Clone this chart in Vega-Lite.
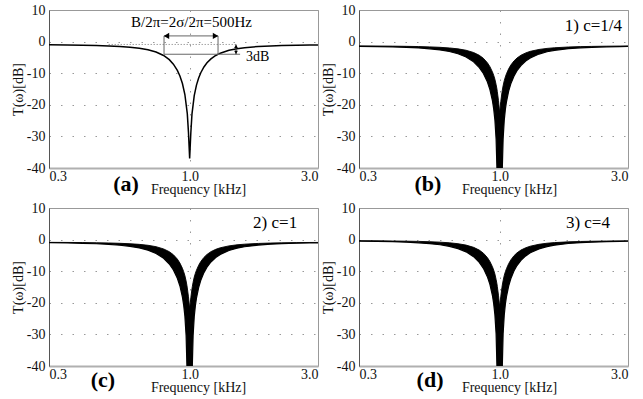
{
"$schema": "https://vega.github.io/schema/vega-lite/v6.json",
"background": "white",
"padding": {"left": 10, "top": 2, "right": 10, "bottom": 0},
"config": {
  "font": "Liberation Serif",
  "view": {"stroke": "#999", "strokeWidth": 1},
  "axis": {"labelFont": "Liberation Serif", "labelFontSize": 14, "labelColor": "#111", "titleFont": "Liberation Serif", "titleFontSize": 14, "titleFontWeight": "normal", "titleColor": "#111", "ticks": false, "gridColor": "#999", "gridDash": [1.5, 10], "gridWidth": 1, "labelOverlap": false},
  "text": {"font": "Liberation Serif", "color": "black"}
},
"datasets": {
  "a": [{"f":0.3,"T":-1.02},{"f":0.35,"T":-1.07},{"f":0.4,"T":-1.14},{"f":0.45,"T":-1.23},{"f":0.5,"T":-1.36},{"f":0.55,"T":-1.53},{"f":0.6,"T":-1.76},{"f":0.65,"T":-2.1},{"f":0.7,"T":-2.58},{"f":0.75,"T":-3.29},{"f":0.8,"T":-4.39},{"f":0.84,"T":-5.72},{"f":0.87,"T":-7.13},{"f":0.9,"T":-9.1},{"f":0.92,"T":-10.89},{"f":0.94,"T":-13.28},{"f":0.96,"T":-16.75},{"f":0.98,"T":-22.78},{"f":0.99,"T":-28.82},{"f":1.0,"T":-37},{"f":1.01,"T":-28.91},{"f":1.02,"T":-22.95},{"f":1.04,"T":-17.09},{"f":1.06,"T":-13.78},{"f":1.08,"T":-11.52},{"f":1.1,"T":-9.85},{"f":1.13,"T":-8.03},{"f":1.16,"T":-6.72},{"f":1.2,"T":-5.46},{"f":1.25,"T":-4.39},{"f":1.3,"T":-3.66},{"f":1.4,"T":-2.75},{"f":1.5,"T":-2.24},{"f":1.6,"T":-1.92},{"f":1.8,"T":-1.55},{"f":2.0,"T":-1.36},{"f":2.2,"T":-1.24},{"f":2.5,"T":-1.14},{"f":2.8,"T":-1.08},{"f":3.0,"T":-1.05}],
  "b": [{"f":0.3,"U":-1.37,"L":-1.48},{"f":0.35,"U":-1.4,"L":-1.56},{"f":0.4,"U":-1.44,"L":-1.67},{"f":0.45,"U":-1.5,"L":-1.82},{"f":0.5,"U":-1.57,"L":-2.01},{"f":0.55,"U":-1.67,"L":-2.28},{"f":0.6,"U":-1.81,"L":-2.63},{"f":0.65,"U":-2.01,"L":-3.14},{"f":0.7,"U":-2.3,"L":-3.85},{"f":0.75,"U":-2.74,"L":-4.88},{"f":0.8,"U":-3.45,"L":-6.41},{"f":0.84,"U":-4.33,"L":-8.21},{"f":0.87,"U":-5.29,"L":-10.1},{"f":0.9,"U":-6.67,"L":-12.73},{"f":0.92,"U":-7.93,"L":-15.18},{"f":0.94,"U":-9.59,"L":-18.7},{"f":0.95,"U":-10.64,"L":-21.21},{"f":0.96,"U":-11.89,"L":-24.75},{"f":0.97,"U":-13.6,"L":-30.8},{"f":0.977,"U":-15.0,"L":-40},{"f":0.98,"U":-15.8,"L":-40},{"f":0.99,"U":-18.6,"L":-40},{"f":1.0,"U":-22.5,"L":-40},{"f":1.01,"U":-18.9,"L":-40},{"f":1.02,"U":-16.1,"L":-40},{"f":1.023,"U":-15.4,"L":-40},{"f":1.03,"U":-14.0,"L":-30.89},{"f":1.04,"U":-12.37,"L":-24.92},{"f":1.05,"U":-11.18,"L":-21.47},{"f":1.06,"U":-10.19,"L":-19.04},{"f":1.08,"U":-8.62,"L":-15.69},{"f":1.1,"U":-7.44,"L":-13.38},{"f":1.13,"U":-6.13,"L":-10.95},{"f":1.16,"U":-5.2,"L":-9.22},{"f":1.2,"U":-4.31,"L":-7.58},{"f":1.25,"U":-3.58,"L":-6.16},{"f":1.3,"U":-3.08,"L":-5.18},{"f":1.4,"U":-2.49,"L":-3.94},{"f":1.5,"U":-2.15,"L":-3.21},{"f":1.6,"U":-1.95,"L":-2.76},{"f":1.8,"U":-1.71,"L":-2.24},{"f":2.0,"U":-1.59,"L":-1.96},{"f":2.2,"U":-1.52,"L":-1.8},{"f":2.5,"U":-1.45,"L":-1.65},{"f":2.8,"U":-1.41,"L":-1.56},{"f":3.0,"U":-1.4,"L":-1.52}],
  "c": [{"f":0.3,"U":-0.87,"L":-0.98},{"f":0.35,"U":-0.9,"L":-1.06},{"f":0.4,"U":-0.94,"L":-1.17},{"f":0.45,"U":-1.0,"L":-1.32},{"f":0.5,"U":-1.07,"L":-1.51},{"f":0.55,"U":-1.17,"L":-1.78},{"f":0.6,"U":-1.31,"L":-2.13},{"f":0.65,"U":-1.51,"L":-2.64},{"f":0.7,"U":-1.8,"L":-3.35},{"f":0.75,"U":-2.24,"L":-4.38},{"f":0.8,"U":-2.95,"L":-5.91},{"f":0.84,"U":-3.83,"L":-7.71},{"f":0.87,"U":-4.79,"L":-9.6},{"f":0.9,"U":-6.17,"L":-12.23},{"f":0.92,"U":-7.43,"L":-14.68},{"f":0.94,"U":-9.09,"L":-18.2},{"f":0.95,"U":-10.14,"L":-20.71},{"f":0.96,"U":-11.39,"L":-24.25},{"f":0.97,"U":-13.1,"L":-30.3},{"f":0.977,"U":-14.5,"L":-40},{"f":0.98,"U":-15.3,"L":-40},{"f":0.99,"U":-18.1,"L":-40},{"f":1.0,"U":-21.8,"L":-40},{"f":1.01,"U":-18.4,"L":-40},{"f":1.02,"U":-15.6,"L":-40},{"f":1.023,"U":-14.9,"L":-40},{"f":1.03,"U":-13.5,"L":-30.39},{"f":1.04,"U":-11.87,"L":-24.42},{"f":1.05,"U":-10.68,"L":-20.97},{"f":1.06,"U":-9.69,"L":-18.54},{"f":1.08,"U":-8.12,"L":-15.19},{"f":1.1,"U":-6.94,"L":-12.88},{"f":1.13,"U":-5.63,"L":-10.45},{"f":1.16,"U":-4.7,"L":-8.72},{"f":1.2,"U":-3.81,"L":-7.08},{"f":1.25,"U":-3.08,"L":-5.66},{"f":1.3,"U":-2.58,"L":-4.68},{"f":1.4,"U":-1.99,"L":-3.44},{"f":1.5,"U":-1.65,"L":-2.71},{"f":1.6,"U":-1.45,"L":-2.26},{"f":1.8,"U":-1.21,"L":-1.74},{"f":2.0,"U":-1.09,"L":-1.46},{"f":2.2,"U":-1.02,"L":-1.3},{"f":2.5,"U":-0.95,"L":-1.15},{"f":2.8,"U":-0.91,"L":-1.06},{"f":3.0,"U":-0.9,"L":-1.02}],
  "d": [{"f":0.3,"U":-0.37,"L":-0.48},{"f":0.35,"U":-0.4,"L":-0.56},{"f":0.4,"U":-0.44,"L":-0.67},{"f":0.45,"U":-0.5,"L":-0.82},{"f":0.5,"U":-0.57,"L":-1.01},{"f":0.55,"U":-0.67,"L":-1.28},{"f":0.6,"U":-0.81,"L":-1.63},{"f":0.65,"U":-1.01,"L":-2.14},{"f":0.7,"U":-1.3,"L":-2.85},{"f":0.75,"U":-1.74,"L":-3.88},{"f":0.8,"U":-2.45,"L":-5.41},{"f":0.84,"U":-3.33,"L":-7.21},{"f":0.87,"U":-4.29,"L":-9.1},{"f":0.9,"U":-5.67,"L":-11.73},{"f":0.92,"U":-6.93,"L":-14.18},{"f":0.94,"U":-8.59,"L":-17.7},{"f":0.95,"U":-9.64,"L":-20.21},{"f":0.96,"U":-10.89,"L":-23.75},{"f":0.97,"U":-12.6,"L":-29.8},{"f":0.977,"U":-14.0,"L":-40},{"f":0.98,"U":-14.8,"L":-40},{"f":0.99,"U":-17.6,"L":-40},{"f":1.0,"U":-21.2,"L":-40},{"f":1.01,"U":-17.9,"L":-40},{"f":1.02,"U":-15.1,"L":-40},{"f":1.023,"U":-14.4,"L":-40},{"f":1.03,"U":-13.0,"L":-29.89},{"f":1.04,"U":-11.37,"L":-23.92},{"f":1.05,"U":-10.18,"L":-20.47},{"f":1.06,"U":-9.19,"L":-18.04},{"f":1.08,"U":-7.62,"L":-14.69},{"f":1.1,"U":-6.44,"L":-12.38},{"f":1.13,"U":-5.13,"L":-9.95},{"f":1.16,"U":-4.2,"L":-8.22},{"f":1.2,"U":-3.31,"L":-6.58},{"f":1.25,"U":-2.58,"L":-5.16},{"f":1.3,"U":-2.08,"L":-4.18},{"f":1.4,"U":-1.49,"L":-2.94},{"f":1.5,"U":-1.15,"L":-2.21},{"f":1.6,"U":-0.95,"L":-1.76},{"f":1.8,"U":-0.71,"L":-1.24},{"f":2.0,"U":-0.59,"L":-0.96},{"f":2.2,"U":-0.52,"L":-0.8},{"f":2.5,"U":-0.45,"L":-0.65},{"f":2.8,"U":-0.41,"L":-0.56},{"f":3.0,"U":-0.4,"L":-0.52}]
},
"vconcat": [
 {"hconcat": [
  {"width": 269, "height": 158,
   "layer": [
    {"data": {"name": "a"}, "mark": {"type": "line", "color": "black", "strokeWidth": 1.5, "clip": true},
     "encoding": {
      "x": {"field": "f", "type": "quantitative", "scale": {"type": "log", "domain": [0.3, 3], "nice": false}, "axis": {"values": [0.3, 1, 3], "labelExpr": "format(datum.value, '.1f')", "labelFont": "Liberation Serif", "titleFont": "Liberation Serif", "title": "Frequency [kHz]", "titleX": 149, "titleY": 25, "titleAlign": "center", "titleBaseline": "alphabetic", "labelFlush": true, "labelPadding": 1, "labelOverlap": false, "domainColor": "#b0b0b0", "domainWidth": 2}},
      "y": {"field": "T", "type": "quantitative", "scale": {"domain": [-40, 10], "nice": false}, "axis": {"values": [10, 0, -10, -20, -30, -40], "tickCount": 6, "labelOverlap": false, "labelBound": false, "labelExpr": "'' + datum.value", "labelFont": "Liberation Serif", "titleFont": "Liberation Serif", "title": "T(ω)[dB]", "titlePadding": 1, "labelPadding": 4, "domainColor": "#555"}}
     }},
    {"data": {"values": [{}]}, "mark": {"type": "rule", "color": "#777", "strokeDash": [1, 2]}, "encoding": {"x": {"datum": 0.5, "type": "quantitative"}, "x2": {"datum": 1.5}, "y": {"datum": -0.9, "type": "quantitative"}}},
    {"data": {"values": [{}]}, "mark": {"type": "rule", "color": "#666"}, "encoding": {"x": {"datum": 0.803, "type": "quantitative"}, "y": {"datum": 1.8, "type": "quantitative"}, "y2": {"datum": -4}}},
    {"data": {"values": [{}]}, "mark": {"type": "rule", "color": "#666"}, "encoding": {"x": {"datum": 1.275, "type": "quantitative"}, "y": {"datum": 1.8, "type": "quantitative"}, "y2": {"datum": -4}}},
    {"data": {"values": [{}]}, "mark": {"type": "rule", "color": "#666"}, "encoding": {"x": {"datum": 0.803, "type": "quantitative"}, "x2": {"datum": 1.54}, "y": {"datum": -4, "type": "quantitative"}}},
    {"data": {"values": [{}]}, "mark": {"type": "rule", "color": "#666"}, "encoding": {"x": {"datum": 0.803, "type": "quantitative"}, "x2": {"datum": 1.275}, "y": {"datum": 1.8, "type": "quantitative"}}},
    {"data": {"values": [{}]}, "mark": {"type": "point", "shape": "triangle-left", "filled": true, "size": 40, "color": "black", "opacity": 1}, "encoding": {"x": {"datum": 0.82, "type": "quantitative"}, "y": {"datum": 1.8, "type": "quantitative"}}},
    {"data": {"values": [{}]}, "mark": {"type": "point", "shape": "triangle-right", "filled": true, "size": 40, "color": "black", "opacity": 1}, "encoding": {"x": {"datum": 1.248, "type": "quantitative"}, "y": {"datum": 1.8, "type": "quantitative"}}},
    {"data": {"values": [{}]}, "mark": {"type": "rule", "color": "#333"}, "encoding": {"x": {"datum": 1.487, "type": "quantitative"}, "y": {"datum": -0.9, "type": "quantitative"}, "y2": {"datum": -4}}},
    {"data": {"values": [{}]}, "mark": {"type": "point", "shape": "triangle-up", "filled": true, "size": 14, "color": "black", "opacity": 1}, "encoding": {"x": {"datum": 1.487, "type": "quantitative"}, "y": {"datum": -1.5, "type": "quantitative"}}},
    {"data": {"values": [{}]}, "mark": {"type": "point", "shape": "triangle-down", "filled": true, "size": 14, "color": "black", "opacity": 1}, "encoding": {"x": {"datum": 1.487, "type": "quantitative"}, "y": {"datum": -3.4, "type": "quantitative"}}},
    {"data": {"values": [{}]}, "mark": {"type": "text", "fontSize": 15, "align": "center", "baseline": "alphabetic"}, "encoding": {"x": {"datum": 1.016, "type": "quantitative"}, "y": {"datum": 4.6, "type": "quantitative"}, "text": {"value": "B/2π=2σ/2π=500Hz"}}},
    {"data": {"values": [{}]}, "mark": {"type": "text", "fontSize": 14, "align": "left", "baseline": "alphabetic"}, "encoding": {"x": {"datum": 1.62, "type": "quantitative"}, "y": {"datum": -6.1, "type": "quantitative"}, "text": {"value": "3dB"}}},
    {"data": {"values": [{}]}, "mark": {"type": "text", "fontSize": 22, "fontWeight": "bold", "align": "center", "baseline": "alphabetic"}, "encoding": {"x": {"datum": 0.58, "type": "quantitative"}, "y": {"datum": -47.3, "type": "quantitative"}, "text": {"value": "(a)"}}}
   ]},
  {"width": 269, "height": 158,
   "layer": [
    {"data": {"name": "b"}, "mark": {"type": "area", "color": "black", "opacity": 1, "clip": true},
     "encoding": {
      "x": {"field": "f", "type": "quantitative", "scale": {"type": "log", "domain": [0.3, 3], "nice": false}, "axis": {"values": [0.3, 1, 3], "labelExpr": "format(datum.value, '.1f')", "labelFont": "Liberation Serif", "titleFont": "Liberation Serif", "title": "Frequency [kHz]", "titleX": 150, "titleY": 25, "titleAlign": "center", "titleBaseline": "alphabetic", "labelFlush": true, "labelPadding": 1, "labelOverlap": false, "domainColor": "#b0b0b0", "domainWidth": 2}},
      "y": {"field": "U", "type": "quantitative", "scale": {"domain": [-40, 10], "nice": false}, "axis": {"values": [10, 0, -10, -20, -30, -40], "tickCount": 6, "labelOverlap": false, "labelBound": false, "labelExpr": "'' + datum.value", "labelFont": "Liberation Serif", "titleFont": "Liberation Serif", "title": "T(ω)[dB]", "titlePadding": 1, "labelPadding": 4, "domainColor": "#555"}},
      "y2": {"field": "L"}
     }},
    {"data": {"name": "b"}, "mark": {"type": "line", "color": "black", "strokeWidth": 0.9, "clip": true}, "encoding": {"x": {"field": "f", "type": "quantitative"}, "y": {"field": "U", "type": "quantitative"}}},
    {"data": {"name": "b"}, "mark": {"type": "line", "color": "black", "strokeWidth": 1.2, "clip": true}, "encoding": {"x": {"field": "f", "type": "quantitative"}, "y": {"field": "L", "type": "quantitative"}}},
    {"data": {"values": [{}]}, "mark": {"type": "text", "fontSize": 17, "align": "right", "baseline": "alphabetic"}, "encoding": {"x": {"datum": 2.85, "type": "quantitative"}, "y": {"datum": 3.35, "type": "quantitative"}, "text": {"value": "1) c=1/4"}}},
    {"data": {"values": [{}]}, "mark": {"type": "text", "fontSize": 22, "fontWeight": "bold", "align": "center", "baseline": "alphabetic"}, "encoding": {"x": {"datum": 0.541, "type": "quantitative"}, "y": {"datum": -47.3, "type": "quantitative"}, "text": {"value": "(b)"}}}
   ]}
 ], "spacing": 1},
 {"hconcat": [
  {"width": 269, "height": 158,
   "layer": [
    {"data": {"name": "c"}, "mark": {"type": "area", "color": "black", "opacity": 1, "clip": true},
     "encoding": {
      "x": {"field": "f", "type": "quantitative", "scale": {"type": "log", "domain": [0.3, 3], "nice": false}, "axis": {"values": [0.3, 1, 3], "labelExpr": "format(datum.value, '.1f')", "labelFont": "Liberation Serif", "titleFont": "Liberation Serif", "title": "Frequency [kHz]", "titleX": 149, "titleY": 25, "titleAlign": "center", "titleBaseline": "alphabetic", "labelFlush": true, "labelPadding": 1, "labelOverlap": false, "domainColor": "#b0b0b0", "domainWidth": 2}},
      "y": {"field": "U", "type": "quantitative", "scale": {"domain": [-40, 10], "nice": false}, "axis": {"values": [10, 0, -10, -20, -30, -40], "tickCount": 6, "labelOverlap": false, "labelBound": false, "labelExpr": "'' + datum.value", "labelFont": "Liberation Serif", "titleFont": "Liberation Serif", "title": "T(ω)[dB]", "titlePadding": 1, "labelPadding": 4, "domainColor": "#555"}},
      "y2": {"field": "L"}
     }},
    {"data": {"name": "c"}, "mark": {"type": "line", "color": "black", "strokeWidth": 0.9, "clip": true}, "encoding": {"x": {"field": "f", "type": "quantitative"}, "y": {"field": "U", "type": "quantitative"}}},
    {"data": {"name": "c"}, "mark": {"type": "line", "color": "black", "strokeWidth": 1.2, "clip": true}, "encoding": {"x": {"field": "f", "type": "quantitative"}, "y": {"field": "L", "type": "quantitative"}}},
    {"data": {"values": [{}]}, "mark": {"type": "text", "fontSize": 17, "align": "right", "baseline": "alphabetic"}, "encoding": {"x": {"datum": 2.51, "type": "quantitative"}, "y": {"datum": 3.8, "type": "quantitative"}, "text": {"value": "2) c=1"}}},
    {"data": {"values": [{}]}, "mark": {"type": "text", "fontSize": 22, "fontWeight": "bold", "align": "center", "baseline": "alphabetic"}, "encoding": {"x": {"datum": 0.476, "type": "quantitative"}, "y": {"datum": -46.5, "type": "quantitative"}, "text": {"value": "(c)"}}}
   ]},
  {"width": 269, "height": 158,
   "layer": [
    {"data": {"name": "d"}, "mark": {"type": "area", "color": "black", "opacity": 1, "clip": true},
     "encoding": {
      "x": {"field": "f", "type": "quantitative", "scale": {"type": "log", "domain": [0.3, 3], "nice": false}, "axis": {"values": [0.3, 1, 3], "labelExpr": "format(datum.value, '.1f')", "labelFont": "Liberation Serif", "titleFont": "Liberation Serif", "title": "Frequency [kHz]", "titleX": 150, "titleY": 25, "titleAlign": "center", "titleBaseline": "alphabetic", "labelFlush": true, "labelPadding": 1, "labelOverlap": false, "domainColor": "#b0b0b0", "domainWidth": 2}},
      "y": {"field": "U", "type": "quantitative", "scale": {"domain": [-40, 10], "nice": false}, "axis": {"values": [10, 0, -10, -20, -30, -40], "tickCount": 6, "labelOverlap": false, "labelBound": false, "labelExpr": "'' + datum.value", "labelFont": "Liberation Serif", "titleFont": "Liberation Serif", "title": "T(ω)[dB]", "titlePadding": 1, "labelPadding": 4, "domainColor": "#555"}},
      "y2": {"field": "L"}
     }},
    {"data": {"name": "d"}, "mark": {"type": "line", "color": "black", "strokeWidth": 0.9, "clip": true}, "encoding": {"x": {"field": "f", "type": "quantitative"}, "y": {"field": "U", "type": "quantitative"}}},
    {"data": {"name": "d"}, "mark": {"type": "line", "color": "black", "strokeWidth": 1.2, "clip": true}, "encoding": {"x": {"field": "f", "type": "quantitative"}, "y": {"field": "L", "type": "quantitative"}}},
    {"data": {"values": [{}]}, "mark": {"type": "text", "fontSize": 17, "align": "right", "baseline": "alphabetic"}, "encoding": {"x": {"datum": 2.57, "type": "quantitative"}, "y": {"datum": 3.8, "type": "quantitative"}, "text": {"value": "3) c=4"}}},
    {"data": {"values": [{}]}, "mark": {"type": "text", "fontSize": 22, "fontWeight": "bold", "align": "center", "baseline": "alphabetic"}, "encoding": {"x": {"datum": 0.551, "type": "quantitative"}, "y": {"datum": -46.5, "type": "quantitative"}, "text": {"value": "(d)"}}}
   ]}
 ], "spacing": 1}
],
"spacing": 3
}
